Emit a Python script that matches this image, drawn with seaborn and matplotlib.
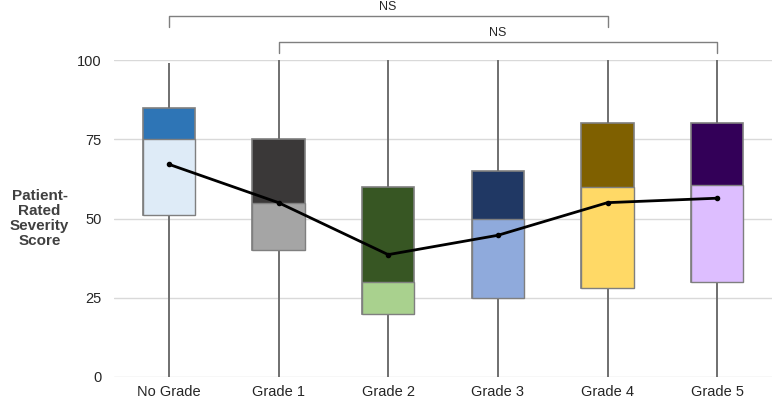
import numpy as np
import pandas as pd
import matplotlib
matplotlib.use("Agg")
import matplotlib.pyplot as plt
import seaborn as sns

categories = ["No Grade", "Grade 1", "Grade 2", "Grade 3", "Grade 4", "Grade 5"]
whisker_low = [0, 0, 0, 0, 0, 0]
q1 = [51, 40, 20, 25, 28, 30]
median = [75, 55, 30, 50, 60, 60.5]
q3 = [85, 75, 60, 65, 80, 80]
whisker_high = [99, 100, 100, 100, 100, 100]
means = [67.1, 55.0, 38.6, 44.7, 55.0, 56.4]
dark_colors = ["#2E75B6", "#3A3838", "#375623", "#203864", "#7F6000", "#330058"]
light_colors = ["#DEEBF7", "#A5A5A5", "#A9D18E", "#8FAADC", "#FFD966", "#DDBEFF"]
yticks = [0, 25, 50, 75, 100]

# five-number data per group (quartiles reproduce exactly with n=5)
rows = []
for c, a, b, m, d, e in zip(categories, whisker_low, q1, median, q3, whisker_high):
    for v in (a, b, m, d, e):
        rows.append({"grade": c, "score": v})
df = pd.DataFrame(rows)

sns.set_theme(style="white")
plt.rcParams["font.family"] = ["Liberation Sans", "DejaVu Sans"]

fig = plt.figure(figsize=(7.73, 4.0), dpi=100)
ax = fig.add_axes([114 / 773, 23 / 400, 658 / 773, 317 / 400])

W = 0.48
sns.boxplot(data=df, x="grade", y="score", hue="grade", order=categories,
            hue_order=categories, palette=dark_colors, legend=False,
            saturation=1, width=W, whis=(0, 100), showcaps=False,
            showfliers=False, linecolor="#7f7f7f", linewidth=1.2,
            medianprops={"linewidth": 0, "alpha": 0},
            whiskerprops={"color": "#6f6f6f", "linewidth": 1.4},
            ax=ax, zorder=2)

# lower half (q1 -> median) in the light colour
xs = np.arange(len(categories))
ax.bar(xs, np.array(median) - np.array(q1), bottom=q1, width=W,
       color=light_colors, edgecolor="#7f7f7f", linewidth=1.0, zorder=3)

sns.pointplot(x=categories, y=means, order=categories, color="black",
              markers="o", markersize=2.5, linewidth=2, errorbar=None, ax=ax)
for ln in ax.lines[-1:]:
    ln.set_zorder(5)
for coll in ax.collections:
    coll.set_zorder(6)

ax.set_ylim(0, 100)
ax.set_xlim(-0.5, 5.5)
ax.set_yticks(yticks)
ax.yaxis.grid(True, color="#d9d9d9", linewidth=1)
ax.set_axisbelow(True)
for s in ax.spines.values():
    s.set_visible(False)
ax.tick_params(axis="both", length=0, labelsize=10.5, colors="#262626")
ax.tick_params(axis="y", pad=9)
ax.tick_params(axis="x", pad=6)
ax.set_xlabel("")
ax.set_ylabel("Patient-\nRated\nSeverity\nScore", rotation=0, fontsize=11,
              fontweight="bold", color="#404040", ha="center", va="center",
              linespacing=1.1)
ax.yaxis.set_label_coords(-0.113, 0.5)

# significance brackets
def bracket(x0, x1, ytop, ydrop, ytext):
    ax.plot([x0, x0, x1, x1], [ydrop, ytop, ytop, ydrop], color="#7f7f7f",
            linewidth=1, clip_on=False)
    ax.text((x0 + x1) / 2, ytext, "NS", ha="center", va="center",
            fontsize=9, color="#262626", clip_on=False)

bracket(0, 4, 113.8, 110.4, 116.6)
bracket(1, 5, 105.7, 102.2, 108.5)

fig.savefig("out.png", dpi=100, facecolor="white")
